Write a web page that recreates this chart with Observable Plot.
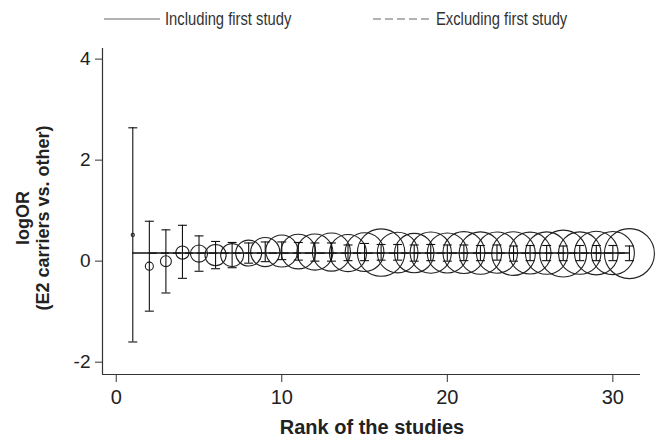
<!DOCTYPE html>
<html><head><meta charset="utf-8">
<script src="https://cdn.jsdelivr.net/npm/d3@7"></script>
<script src="https://cdn.jsdelivr.net/npm/@observablehq/plot@0.6"></script>
<style>
body{margin:0;background:#fff;}
#wrap{position:relative;width:661px;height:441px;font-family:"Liberation Sans",Arial,sans-serif;color:#222;overflow:hidden;}
#wrap svg.plot{position:absolute;left:0;top:0;}
.lg{position:absolute;font-size:18px;line-height:20px;white-space:nowrap;color:#333;transform:scaleX(0.82);transform-origin:left center;}
.sw{position:absolute;}
#ylab{position:absolute;width:300px;height:40px;left:-117px;top:198px;transform:rotate(-90deg);text-align:center;font-weight:bold;font-size:18px;line-height:20px;white-space:nowrap;}
#xlab{position:absolute;width:400px;left:172px;top:416px;text-align:center;font-weight:bold;font-size:20px;line-height:22px;white-space:nowrap;}
</style></head><body>
<div id="wrap">
  <svg class="sw" style="left:104px;top:15px" width="58" height="8"><line x1="0" x2="56" y1="4" y2="4" stroke="#666" stroke-width="1.2"/></svg>
  <div class="lg" style="left:165px;top:9px">Including first study</div>
  <svg class="sw" style="left:373px;top:15px" width="62" height="8"><line x1="0" x2="60" y1="4" y2="4" stroke="#666" stroke-width="1.2" stroke-dasharray="8,4"/></svg>
  <div class="lg" style="left:436px;top:9px">Excluding first study</div>
  <div id="ylab">logOR<br>(E2 carriers vs. other)</div>
  <div id="xlab">Rank of the studies</div>
</div>
<script>
const ranks = [1,2,3,4,5,6,7,8,9,10,11,12,13,14,15,16,17,18,19,20,21,22,23,24,25,26,27,28,29,30,31];
const logOR = [0.52,-0.10,0.00,0.17,0.15,0.12,0.12,0.16,0.18,0.20,0.19,0.18,0.18,0.16,0.18,0.17,0.17,0.16,0.17,0.16,0.17,0.16,0.17,0.15,0.16,0.16,0.15,0.16,0.16,0.16,0.15];
const ciLow = [-1.60,-0.99,-0.63,-0.34,-0.20,-0.15,-0.13,-0.04,-0.01,0.03,0.02,0.00,0.00,0.01,0.01,0.02,0.02,0.00,0.01,0.00,0.01,0.01,0.02,0.00,0.01,0.01,0.01,0.01,0.01,0.01,0.01];
const ciHigh = [2.64,0.79,0.62,0.71,0.50,0.39,0.37,0.36,0.38,0.38,0.37,0.36,0.36,0.32,0.35,0.33,0.33,0.32,0.33,0.32,0.32,0.31,0.32,0.30,0.31,0.31,0.30,0.31,0.31,0.31,0.30];
const weights = [0.4,2.6,4.8,7.0,11.6,18,21,27,34,41,48,52,58,55,60,90,66,62,68,64,70,72,68,76,70,72,88,72,76,74,100];
const pooledIncluding = 0.16;
const pooledExcluding = 0.16;
const xTicks = [0,10,20,30];
const yTicks = [-2,0,2,4];

const data = ranks.map((r,i)=>({rank:r, est:logOR[i], lo:ciLow[i], hi:ciHigh[i], w:weights[i]}));
const rankMin = d3.min(ranks), rankMax = d3.max(ranks);
const xDomain = [-0.83, 31.67], yDomain = [-2.244, 4.21];
const fmt = d => String(d);

const capSymbol = {draw(ctx, size){ const w = Math.sqrt(size/Math.PI); ctx.moveTo(-w,0); ctx.lineTo(w,0); }};

const chart = Plot.plot({
  width: 661, height: 441,
  marginTop: 48, marginBottom: 67, marginLeft: 102, marginRight: 21,
  style: {fontFamily: '"Liberation Sans", Arial, sans-serif', color: "#222", background: "transparent"},
  x: {domain: xDomain},
  y: {domain: yDomain},
  r: {type: "sqrt", domain: [0, 100], range: [0, 25]},
  marks: [
    Plot.ruleX([xDomain[0]], {stroke: "#333", strokeWidth: 1.2}),
    Plot.ruleY([yDomain[0]], {stroke: "#333", strokeWidth: 1.2}),
    Plot.axisY({ticks: yTicks, tickFormat: fmt, tickSize: 7, tickPadding: 5, fontSize: 19, label: null, stroke: "#333"}),
    Plot.axisX({ticks: xTicks, tickFormat: fmt, tickSize: 8, tickPadding: 7, fontSize: 20, label: null, stroke: "#333"}),
    Plot.dot(data, {x: "rank", y: "est", r: "w", stroke: "#222", strokeWidth: 1.1, fill: "none"}),
    Plot.ruleX(data, {x: "rank", y1: "lo", y2: "hi", stroke: "#111", strokeWidth: 1.1}),
    Plot.dot(data, {x: "rank", y: "lo", r: 4.5, symbol: capSymbol, stroke: "#111", strokeWidth: 1.1}),
    Plot.dot(data, {x: "rank", y: "hi", r: 4.5, symbol: capSymbol, stroke: "#111", strokeWidth: 1.1}),
    Plot.ruleY([pooledExcluding], {x1: rankMin + 1, x2: rankMax, stroke: "#111", strokeDasharray: "8,4", strokeWidth: 1.3}),
    Plot.ruleY([pooledIncluding], {x1: rankMin, x2: rankMax, stroke: "#111", strokeWidth: 1.5})
  ]
});
chart.classList.add("plot");
document.getElementById("wrap").prepend(chart);
</script>
</body></html>
